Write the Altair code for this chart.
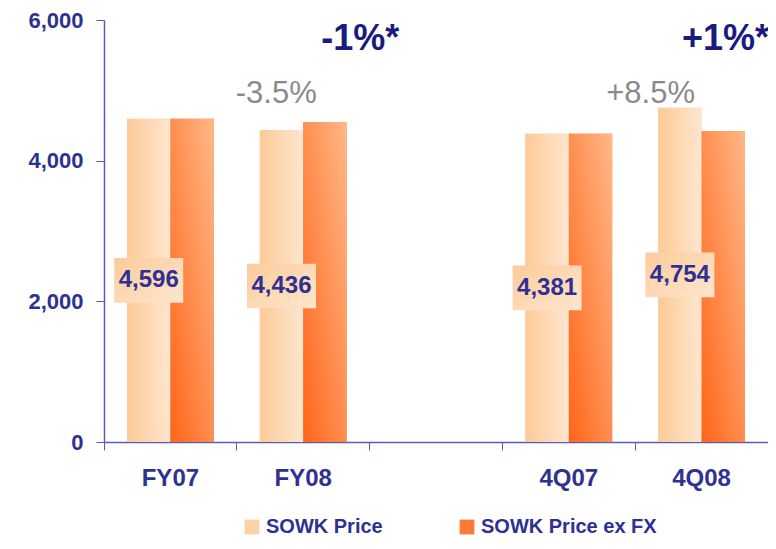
import altair as alt
import pandas as pd

# ---- data ----
categories = ["FY07", "FY08", " ", "4Q07", "4Q08"]
series = ["SOWK Price", "SOWK Price ex FX"]
sowk_price = [4596, 4436, None, 4381, 4754]
sowk_price_ex_fx = [4596, 4550, None, 4381, 4420]

headline_text = ["-1%*", "+1%*"]
headline_cat = ["FY08", "4Q08"]
headline_y = [5730, 5730]

change_text = ["-3.5%", "+8.5%"]
change_cat = ["FY08", "4Q08"]
change_y = [4950, 4950]

# ---- tables ----
rows = []
for c, a, b in zip(categories, sowk_price, sowk_price_ex_fx):
    if a is not None:
        rows.append({"category": c, "series": series[0], "value": a})
    if b is not None:
        rows.append({"category": c, "series": series[1], "value": b})
bars_df = pd.DataFrame(rows)
labels_df = bars_df[bars_df["series"] == series[0]].reset_index(drop=True)

head_df = pd.DataFrame({"category": headline_cat, "text": headline_text, "y": headline_y})
chg_df = pd.DataFrame({"category": change_cat, "text": change_text, "y": change_y})

# ---- styles ----
NAVY = "#2E3192"
AXIS = "#5B5BB5"
FONT = "Liberation Sans"

grad_light = {"gradient": "linear", "x1": 0, "y1": 0, "x2": 1, "y2": 0,
              "stops": [{"offset": 0, "color": "#FDCA97"}, {"offset": 1, "color": "#FEE6CF"}]}
grad_dark = {"gradient": "linear", "x1": 0, "y1": 1, "x2": 1, "y2": 0,
             "stops": [{"offset": 0, "color": "#FF6519"}, {"offset": 1, "color": "#FFB888"}]}
grad_box = {"gradient": "linear", "x1": 0, "y1": 0, "x2": 1, "y2": 1,
            "stops": [{"offset": 0, "color": "#FDCB9B"}, {"offset": 1, "color": "#FEE6CE"}]}

xscale = alt.Scale(domain=categories, paddingInner=0, paddingOuter=0)
xoff_scale = alt.Scale(domain=series, paddingInner=0, paddingOuter=0.53)
yscale = alt.Scale(domain=[0, 6000], nice=False)

x_axis = alt.Axis(title=None, labelAngle=0, bandPosition=0, ticks=True,
                  tickSize=8, tickColor=AXIS, domainColor=AXIS, domainWidth=1.5,
                  labelFont=FONT, labelFontSize=24, labelFontWeight="bold",
                  labelColor=NAVY, labelPadding=16, grid=False)
y_axis = alt.Axis(title=None, values=[0, 2000, 4000, 6000],
                  labelExpr="format(datum.value, ',')",
                  tickSize=8, tickColor=AXIS, domainColor=AXIS, domainWidth=1.5,
                  labelFont=FONT, labelFontSize=22, labelFontWeight="bold",
                  labelColor=NAVY, labelPadding=13, grid=False)

def X():
    return alt.X("category:N", scale=xscale, sort=categories, axis=x_axis)

def Y(field):
    return alt.Y(field, scale=yscale, axis=y_axis)

base_bars = alt.Chart(bars_df).mark_bar().encode(
    x=X(),
    xOffset=alt.XOffset("series:N", scale=xoff_scale),
    y=Y("value:Q"),
    color=alt.Color("series:N",
                    scale=alt.Scale(domain=series, range=["#FDD2A6", "#FF7A38"]),
                    legend=alt.Legend(title=None, orient="none", direction="horizontal",
                                      legendX=138, legendY=497, symbolType="square",
                                      symbolSize=220, symbolStrokeWidth=0, symbolOpacity=1,
                                      labelFont=FONT, labelFontSize=20, labelFontWeight="bold",
                                      labelColor=NAVY, labelOffset=4, columnPadding=74,
                                      labelLimit=400, padding=0)),
)

def overlay(s, grad):
    return alt.Chart(bars_df).transform_filter(alt.datum.series == s).mark_bar(fill=grad).encode(
        x=X(),
        xOffset=alt.XOffset("series:N", scale=xoff_scale),
        y=Y("value:Q"),
    )

boxes = alt.Chart(labels_df).transform_calculate(
    lo="datum.value / 2 - 318", hi="datum.value / 2 + 318"
).mark_bar(width=69, fill=grad_box).encode(
    x=X(),
    xOffset=alt.XOffset("series:N", scale=xoff_scale),
    y=Y("lo:Q"),
    y2="hi:Q",
)

label_text = alt.Chart(labels_df).transform_calculate(
    mid="datum.value / 2"
).mark_text(font=FONT, fontSize=24, fontWeight="bold", color=NAVY, baseline="middle").encode(
    x=X(),
    xOffset=alt.XOffset("series:N", scale=xoff_scale),
    y=Y("mid:Q"),
    text=alt.Text("value:Q", format=","),
)

def annot(df, idx, dx, size, weight, color):
    d = df.iloc[[idx]]
    return alt.Chart(d).mark_text(font=FONT, fontSize=size, fontWeight=weight, color=color,
                                  baseline="middle", dx=dx).encode(
        x=X(),
        y=Y("y:Q"),
        text="text:N",
    )

chart = alt.layer(
    base_bars,
    overlay(series[0], grad_light),
    overlay(series[1], grad_dark),
    boxes,
    label_text,
    annot(head_df, 0, 57, 36, "bold", "#1A1A80"),
    annot(head_df, 1, 24, 36, "bold", "#1A1A80"),
    annot(chg_df, 0, -27, 31, "normal", "#8A8A8A"),
    annot(chg_df, 1, -51, 31, "normal", "#8A8A8A"),
).properties(
    width=664, height=422,
    autosize=alt.AutoSizeParams(type="none"),
    padding={"left": 96, "top": 12, "right": 0, "bottom": 97},
    background="white",
).configure_view(stroke=None)

chart.save("out.html", embed_options={"renderer": "svg", "actions": False})
